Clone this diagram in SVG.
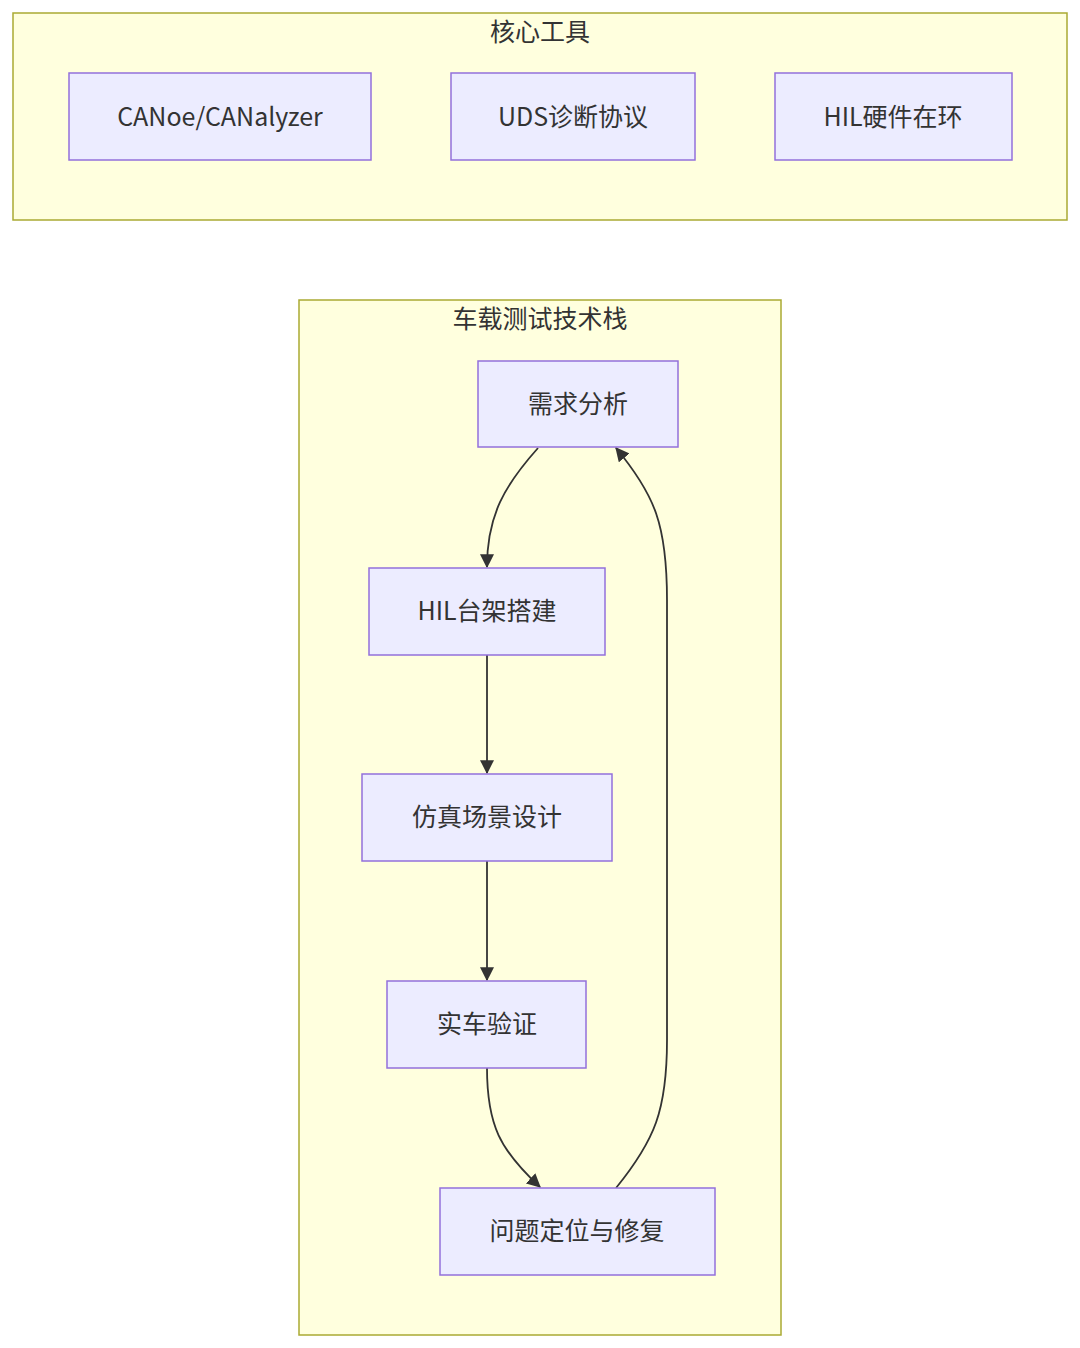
<svg xmlns="http://www.w3.org/2000/svg" width="1080" height="1348" viewBox="0 0 1080 1348">
<defs>
<style>
.cluster{fill:#ffffde;stroke:#aaaa33;stroke-width:1.5}
.node rect{fill:#ececff;stroke:#9370db;stroke-width:1.5}
text{font-family:"Noto Sans CJK SC","Noto Sans",sans-serif;fill:#333;font-size:25px;text-anchor:middle;dominant-baseline:central}
.edge{fill:none;stroke:#333;stroke-width:1.8}
</style>
<marker id="ah" viewBox="0 0 12 12" refX="11" refY="6" markerWidth="14" markerHeight="14" markerUnits="userSpaceOnUse" orient="auto">
<path d="M0,0 L12,6 L0,12 z" fill="#333"/>
</marker>
</defs>
<rect width="1080" height="1348" fill="#fff"/>
<g id="cluster-tools">
<rect class="cluster" x="13" y="13" width="1054" height="207"/>
<text x="540" y="30">核心工具</text>
</g>
<g id="cluster-stack">
<rect class="cluster" x="299" y="300" width="482" height="1035"/>
<text x="540" y="317">车载测试技术栈</text>
</g>
<g id="edges">
<path class="edge" d="M538,448 C505,485 487,515 487,567" marker-end="url(#ah)"/>
<path class="edge" d="M487,655 L487,773" marker-end="url(#ah)"/>
<path class="edge" d="M487,861 L487,980" marker-end="url(#ah)"/>
<path class="edge" d="M487,1068 C487,1125 500,1150 540,1187" marker-end="url(#ah)"/>
<path class="edge" d="M616,1188 C655,1140 667,1110 667,1040 L667,600 C667,525 655,495 616,448" marker-end="url(#ah)"/>
</g>
<g id="n-canoe" class="node">
<rect x="69" y="73" width="302" height="87"/>
<text x="220" y="115">CANoe/CANalyzer</text>
</g>
<g id="n-uds" class="node">
<rect x="451" y="73" width="244" height="87"/>
<text x="573" y="115">UDS诊断协议</text>
</g>
<g id="n-hil" class="node">
<rect x="775" y="73" width="237" height="87"/>
<text x="893" y="115">HIL硬件在环</text>
</g>
<g id="n-req" class="node">
<rect x="478" y="361" width="200" height="86"/>
<text x="578" y="402">需求分析</text>
</g>
<g id="n-bench" class="node">
<rect x="369" y="568" width="236" height="87"/>
<text x="487" y="609">HIL台架搭建</text>
</g>
<g id="n-sim" class="node">
<rect x="362" y="774" width="250" height="87"/>
<text x="487" y="815">仿真场景设计</text>
</g>
<g id="n-car" class="node">
<rect x="387" y="981" width="199" height="87"/>
<text x="487" y="1022">实车验证</text>
</g>
<g id="n-fix" class="node">
<rect x="440" y="1188" width="275" height="87"/>
<text x="577" y="1229">问题定位与修复</text>
</g>
</svg>
